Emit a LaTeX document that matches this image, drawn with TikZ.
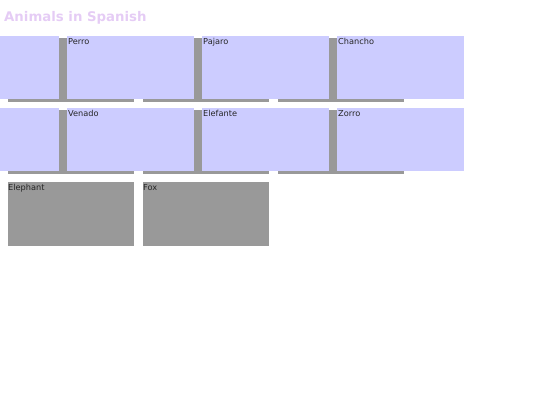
\documentclass[tikz,border=0pt]{standalone}
\usepackage{fontspec}
\setmainfont{DejaVu Sans}
\definecolor{boxgray}{HTML}{999999}
\definecolor{lav}{HTML}{CCCCFF}
\definecolor{titlec}{HTML}{E5CCF5}
\begin{document}
\begin{tikzpicture}[x=1pt,y=-1pt,
  graybox/.style={fill=boxgray,draw=none,minimum width=126pt,minimum height=63.5pt,anchor=north west,inner sep=0pt,outer sep=0pt},
  lavbox/.style={fill=lav,draw=none,minimum width=127pt,minimum height=63pt,anchor=north west,inner sep=0pt,outer sep=0pt},
  lbl/.style={anchor=north west,inner sep=0pt,font=\fontsize{8.2}{9}\selectfont,text=black!85}]
\useasboundingbox (0,0) rectangle (540,405);
% gray boxes
\node[graybox] (g11) at (8,38) {};
\node[graybox] (g12) at (143,38) {};
\node[graybox] (g13) at (278,38) {};
\node[graybox] (g21) at (8,110) {};
\node[graybox] (g22) at (143,110) {};
\node[graybox] (g23) at (278,110) {};
\node[graybox] (g31) at (8,182) {};
\node[graybox] (g32) at (143,182) {};
% lavender boxes
\node[lavbox] (l10) at (-68,36) {};
\node[lavbox] (l11) at (67,36) {};
\node[lavbox] (l12) at (202,36) {};
\node[lavbox] (l13) at (337,36) {};
\node[lavbox] (l20) at (-68,108) {};
\node[lavbox] (l21) at (67,108) {};
\node[lavbox] (l22) at (202,108) {};
\node[lavbox] (l23) at (337,108) {};
% labels
\node[lbl] (t11) at ([xshift=1pt,yshift=-2.5pt]l11.north west) {Perro};
\node[lbl] (t12) at ([xshift=1pt,yshift=-2.5pt]l12.north west) {Pajaro};
\node[lbl] (t13) at ([xshift=1pt,yshift=-2.5pt]l13.north west) {Chancho};
\node[lbl] (t21) at ([xshift=1pt,yshift=-2.5pt]l21.north west) {Venado};
\node[lbl] (t22) at ([xshift=1pt,yshift=-2.5pt]l22.north west) {Elefante};
\node[lbl] (t23) at ([xshift=1pt,yshift=-2.5pt]l23.north west) {Zorro};
\node[lbl] (t31) at ([xshift=0pt,yshift=-2.5pt]g31.north west) {Elephant};
\node[lbl] (t32) at ([xshift=0pt,yshift=-2.5pt]g32.north west) {Fox};
% title
\node[anchor=west,inner sep=0pt,text=titlec,font=\bfseries\fontsize{13.3}{15}\selectfont] (title) at (4,17.5) {Animals in Spanish};
\end{tikzpicture}
\end{document}
